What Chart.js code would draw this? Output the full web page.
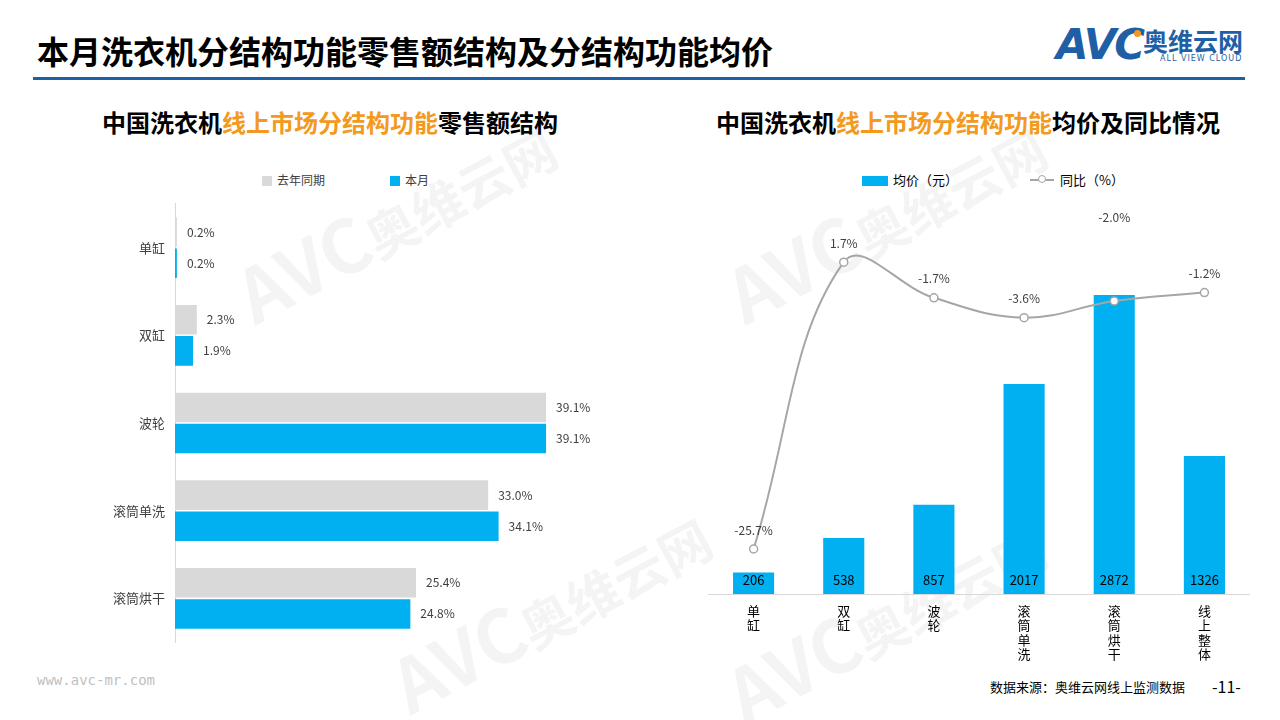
<!DOCTYPE html>
<html>
<head>
<meta charset="utf-8">
<script src="https://cdn.jsdelivr.net/npm/chart.js"></script>
<style>
    body { margin: 0; width: 1280px; height: 720px; background: #fff; position: relative; overflow: hidden;
           font-family: "Noto Sans CJK SC", "Noto Sans", sans-serif; }
    .abs { position: absolute; white-space: nowrap; }
    .title { left: 37px; top: 28px; font-size: 32px; font-weight: bold; color: #000; line-height: 44px; }
    .rule { left: 33px; top: 77px; width: 1212px; height: 3px; background: #1f5fa6; }
    .sub { font-size: 24px; font-weight: bold; color: #000; top: 104px; transform: translateX(-50%); }
    .sub span { color: #f39a1e; }
    .leg { font-size: 12px; color: #404040; top: 170px; line-height: 20px; }
    .wm { color: rgba(0,0,0,0.045); font-weight: bold; transform: rotate(-28deg); transform-origin: left top; }
    canvas { position: absolute; }
</style>
</head>
<body>
<div class="abs wm" style="left:215px;top:250px;font-size:74px;">AVC<span style="font-size:52px;">奥维云网</span></div>
<div class="abs wm" style="left:705px;top:250px;font-size:74px;">AVC<span style="font-size:52px;">奥维云网</span></div>
<div class="abs wm" style="left:370px;top:640px;font-size:74px;">AVC<span style="font-size:52px;">奥维云网</span></div>
<div class="abs wm" style="left:705px;top:650px;font-size:74px;">AVC<span style="font-size:52px;">奥维云网</span></div>

<div class="abs title">本月洗衣机分结构功能零售额结构及分结构功能均价</div>
<div class="abs rule"></div>

<div class="abs" style="left:1056px;top:21px;font-size:42px;font-weight:bold;font-style:italic;color:#1f5fa6;letter-spacing:-2px;font-family:'DejaVu Sans';line-height:48px;">AVC</div>
<div class="abs" style="left:1134px;top:30px;width:7px;height:7px;border-radius:4px;background:#f39a1e;"></div>
<div class="abs" style="left:1143px;top:25px;font-size:25px;font-weight:bold;color:#1f5fa6;line-height:30px;">奥维云网</div>
<div class="abs" style="left:1160px;top:54px;font-size:8px;color:#1f5fa6;letter-spacing:1px;font-family:'DejaVu Sans';">ALL VIEW CLOUD</div>

<div class="abs sub" style="left:330px;">中国洗衣机<span>线上市场分结构功能</span>零售额结构</div>
<div class="abs sub" style="left:968px;">中国洗衣机<span>线上市场分结构功能</span>均价及同比情况</div>

<div class="abs leg" style="left:262px;"><span style="display:inline-block;width:10px;height:10px;background:#d9d9d9;margin-right:5px;vertical-align:-1px;"></span>去年同期</div>
<div class="abs leg" style="left:390px;"><span style="display:inline-block;width:10px;height:10px;background:#00b0f0;margin-right:5px;vertical-align:-1px;"></span>本月</div>

<div class="abs leg" style="left:862px;font-size:13px;color:#000;"><span style="display:inline-block;width:26px;height:10px;background:#00b0f0;margin-right:5px;vertical-align:-1px;"></span>均价（元）</div>
<div class="abs leg" style="left:1030px;font-size:13px;color:#000;"><span style="display:inline-block;position:relative;width:24px;height:2px;background:#a6a6a6;margin-right:6px;vertical-align:4px;"><span style="position:absolute;left:8px;top:-4px;width:6px;height:6px;border:1.5px solid #a6a6a6;border-radius:50%;background:#fff;"></span></span>同比（%）</div>

<canvas id="shareChart" width="620" height="474" style="left:20px;top:186px;"></canvas>
<canvas id="priceChart" width="552" height="473" style="left:703px;top:196px;"></canvas>

<div class="abs" style="left:37px;top:672px;font-size:14px;color:#bfbfbf;font-family:'DejaVu Sans Mono';">www.avc-mr.com</div>
<div class="abs" style="left:990px;top:677px;font-size:13px;color:#000;">数据来源：奥维云网线上监测数据</div>
<div class="abs" style="left:1212px;top:674px;font-size:16px;color:#000;">-11-</div>

<script>
const shareCategories = ['单缸', '双缸', '波轮', '滚筒单洗', '滚筒烘干'];
const shareLastYear = [0.2, 2.3, 39.1, 33.0, 25.4];
const shareThisMonth = [0.2, 1.9, 39.1, 34.1, 24.8];

const priceCategories = ['单缸', '双缸', '波轮', '滚筒单洗', '滚筒烘干', '线上整体'];
const avgPrice = [206, 538, 857, 2017, 2872, 1326];
const yoyChange = [-25.7, 1.7, -1.7, -3.6, -2.0, -1.2];

const labelFont = '12px "Noto Sans CJK SC", sans-serif';

const shareLabels = {
    id: 'shareLabels',
    afterDatasetsDraw(chart) {
        const ctx = chart.ctx;
        ctx.save();
        ctx.font = labelFont;
        ctx.fillStyle = '#404040';
        ctx.textAlign = 'left';
        ctx.textBaseline = 'middle';
        chart.data.datasets.forEach((ds, i) => {
            chart.getDatasetMeta(i).data.forEach((bar, j) => {
                ctx.fillText(ds.data[j].toFixed(1) + '%', bar.x + 10, bar.y);
            });
        });
        ctx.restore();
    }
};

const priceLabels = {
    id: 'priceLabels',
    afterDatasetsDraw(chart) {
        const ctx = chart.ctx;
        ctx.save();
        ctx.textAlign = 'center';
        ctx.textBaseline = 'middle';
        // bar values sit at the bottom of each bar
        ctx.font = '13px "Noto Sans CJK SC", sans-serif';
        ctx.fillStyle = '#000';
        chart.getDatasetMeta(0).data.forEach((bar, j) => {
            ctx.fillText(String(avgPrice[j]), bar.x, bar.base - 14);
        });
        // yoy values above the points; the 滚筒烘干 one was lifted clear of the bar
        ctx.font = labelFont;
        ctx.fillStyle = '#404040';
        chart.getDatasetMeta(1).data.forEach((pt, j) => {
            const lift = j === 4 ? 83 : 19;
            ctx.fillText(yoyChange[j].toFixed(1) + '%', pt.x, pt.y - lift);
        });
        ctx.restore();
    }
};

new Chart(document.getElementById('shareChart').getContext('2d'), {
    type: 'bar',
    data: {
        labels: shareCategories,
        datasets: [{
            label: '去年同期',
            backgroundColor: '#d9d9d9',
            data: shareLastYear
        }, {
            label: '本月',
            backgroundColor: '#00b0f0',
            data: shareThisMonth
        }]
    },
    options: {
        indexAxis: 'y',
        responsive: false,
        animation: false,
        categoryPercentage: 0.71,
        barPercentage: 0.95,
        layout: { padding: 0 },
        plugins: { legend: { display: false }, tooltip: { enabled: false } },
        scales: {
            x: { display: false, min: 0, max: 49 },
            y: {
                grid: { display: false, drawTicks: false },
                border: { display: true, color: '#d9d9d9', width: 1 },
                ticks: { color: '#404040', padding: 10, font: { size: 13, family: '"Noto Sans CJK SC"' } },
                afterFit(scale) { scale.width = 155; }
            }
        }
    },
    plugins: [shareLabels]
});

new Chart(document.getElementById('priceChart').getContext('2d'), {
    data: {
        labels: priceCategories.map(c => c.split('')),
        datasets: [{
            type: 'bar',
            label: '均价（元）',
            backgroundColor: '#00b0f0',
            data: avgPrice,
            yAxisID: 'y',
            order: 2,
            barPercentage: 0.57,
            categoryPercentage: 0.8
        }, {
            type: 'line',
            label: '同比（%）',
            data: yoyChange,
            yAxisID: 'y2',
            order: 1,
            borderColor: '#a6a6a6',
            borderWidth: 2,
            tension: 0.4,
            pointRadius: 4,
            pointBackgroundColor: '#fff',
            pointBorderColor: '#a6a6a6',
            pointBorderWidth: 1.5,
            clip: false
        }]
    },
    options: {
        responsive: false,
        animation: false,
        layout: { padding: 0 },
        plugins: { legend: { display: false }, tooltip: { enabled: false } },
        scales: {
            x: {
                grid: { display: false, drawTicks: false },
                border: { display: true, color: '#d9d9d9', width: 1 },
                ticks: { color: '#000', padding: 10, maxRotation: 0, autoSkip: false,
                         font: { size: 13, lineHeight: 1.1, family: '"Noto Sans CJK SC"' } },
                afterFit(scale) { scale.height = 75; }
            },
            y: { display: false, min: 0, max: 3770 },
            y2: { display: false, min: -30, max: 7.5 }
        }
    },
    plugins: [priceLabels]
});
</script>
</body>
</html>
